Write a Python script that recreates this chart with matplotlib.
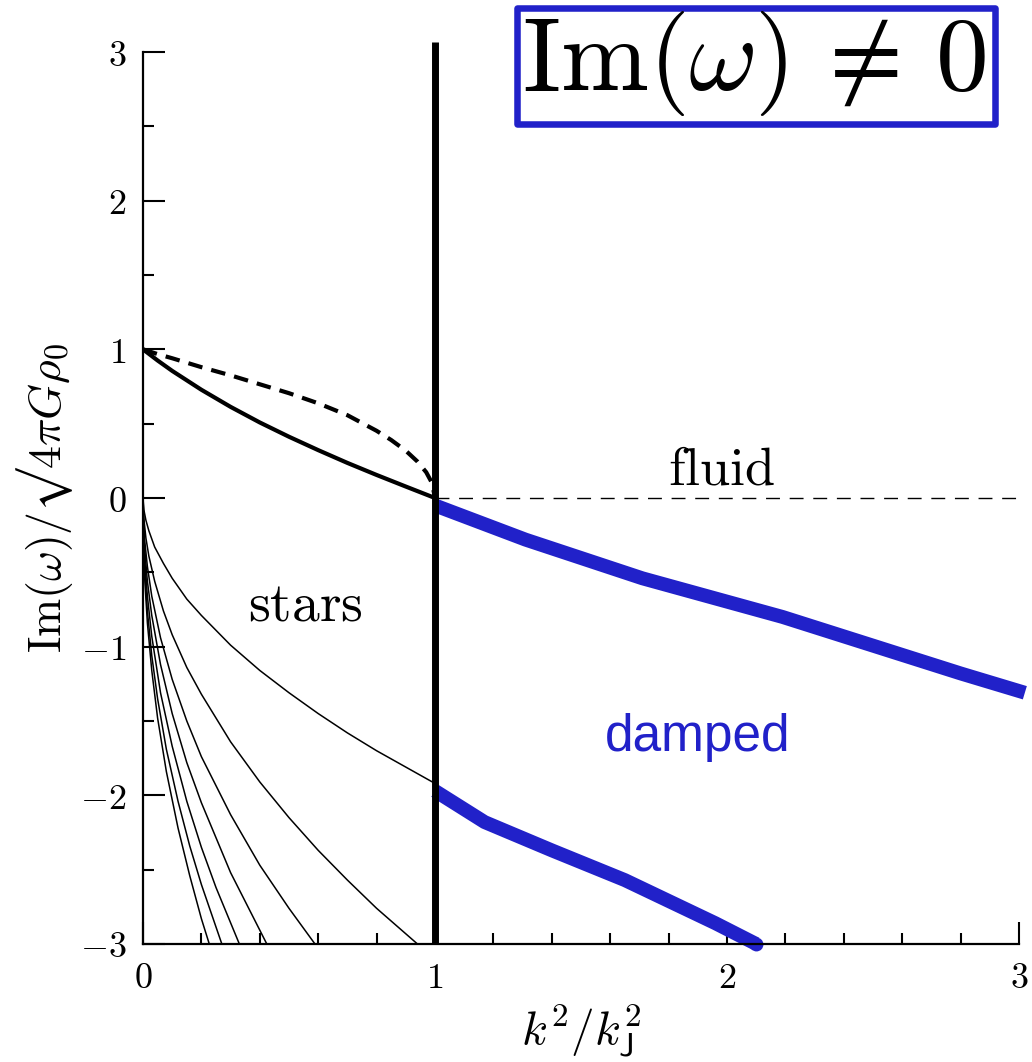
import matplotlib
matplotlib.use("Agg")
import matplotlib.pyplot as plt
from matplotlib.ticker import MultipleLocator, FuncFormatter
from matplotlib.patches import Rectangle

plt.rcParams['mathtext.fontset'] = 'cm'
plt.rcParams['font.family'] = ['DejaVu Serif']

# gas (fluid) growth rate and the stellar one, both from 1 at k=0 down to 0 at k_J
fluid_x = [0.0, 0.05, 0.1, 0.2, 0.3, 0.4, 0.5, 0.6, 0.7, 0.8, 0.85, 0.9, 0.94, 0.97, 0.99, 1.0]
fluid_y = [1.0, 0.968, 0.94, 0.88, 0.825, 0.765, 0.705, 0.637, 0.557, 0.452, 0.39, 0.318,
           0.245, 0.173, 0.10, 0.0]
star_x = [0.0, 0.05, 0.1, 0.2, 0.3, 0.4, 0.5, 0.6, 0.7, 0.8, 0.9, 1.0]
star_y = [1.0, 0.925, 0.855, 0.728, 0.613, 0.508, 0.412, 0.322, 0.236, 0.155, 0.077, 0.0]

# damped stellar branches for k < k_J (thin lines)
branch_x = [
    [0.0, 0.003, 0.01, 0.02, 0.04, 0.07, 0.1, 0.15, 0.2, 0.3, 0.4, 0.5, 0.6, 0.7, 0.8, 0.9, 1.0],
    [0.0, 0.003, 0.01, 0.02, 0.04, 0.07, 0.1, 0.15, 0.2, 0.3, 0.4, 0.5, 0.6, 0.7, 0.8, 0.94],
    [0.0, 0.002, 0.006, 0.015, 0.03, 0.06, 0.1, 0.15, 0.2, 0.3, 0.4, 0.5, 0.589],
    [0.0, 0.002, 0.006, 0.015, 0.03, 0.06, 0.1, 0.15, 0.2, 0.3, 0.424],
    [0.0, 0.002, 0.006, 0.015, 0.03, 0.06, 0.1, 0.15, 0.2, 0.25, 0.33],
    [0.0, 0.002, 0.006, 0.015, 0.03, 0.05, 0.08, 0.12, 0.16, 0.2, 0.27],
    [0.0, 0.002, 0.006, 0.015, 0.03, 0.05, 0.08, 0.12, 0.16, 0.2, 0.227],
]
branch_y = [
    [0.0, -0.08, -0.15, -0.22, -0.33, -0.44, -0.54, -0.68, -0.79, -0.99, -1.16, -1.31, -1.45,
     -1.58, -1.70, -1.81, -1.92],
    [0.0, -0.14, -0.27, -0.39, -0.56, -0.76, -0.92, -1.14, -1.32, -1.64, -1.91, -2.15, -2.37,
     -2.57, -2.76, -3.0],
    [0.0, -0.17, -0.29, -0.46, -0.66, -0.94, -1.22, -1.50, -1.74, -2.13, -2.47, -2.76, -3.0],
    [0.0, -0.20, -0.35, -0.56, -0.79, -1.12, -1.45, -1.78, -2.05, -2.52, -3.0],
    [0.0, -0.25, -0.42, -0.66, -0.93, -1.31, -1.67, -2.04, -2.35, -2.62, -3.0],
    [0.0, -0.29, -0.49, -0.76, -1.06, -1.35, -1.69, -2.04, -2.34, -2.60, -3.0],
    [0.0, -0.33, -0.55, -0.84, -1.16, -1.48, -1.84, -2.22, -2.54, -2.83, -3.0],
]

# damped branches for k > k_J (thick blue)
damp1_x = [1.0, 1.31, 1.71, 2.19, 2.80, 3.02]
damp1_y = [-0.05, -0.28, -0.54, -0.80, -1.18, -1.31]
damp2_x = [1.0, 1.17, 1.40, 1.65, 1.96, 2.10]
damp2_y = [-1.97, -2.18, -2.37, -2.57, -2.86, -3.0]

blue = '#2121C9'

fig = plt.figure(figsize=(10.32, 10.62), dpi=100)
ax = fig.add_axes([143 / 1032, 118 / 1062, 876 / 1032, 892 / 1062])

for bx, by in zip(branch_x, branch_y):
    ax.plot(bx, by, color='black', lw=1.1)

ax.plot(star_x, star_y, color='black', lw=3.0)
ax.plot(fluid_x, fluid_y, color='black', lw=3.0, dashes=(3.5, 2.2))
ax.plot([1, 3], [0, 0], color='black', lw=1.0, dashes=(10, 7))

ax.plot(damp1_x, damp1_y, color=blue, lw=10, solid_capstyle='butt',
        solid_joinstyle='round', clip_on=False)
ax.plot(damp2_x, damp2_y, color=blue, lw=10, solid_capstyle='butt',
        solid_joinstyle='round', clip_on=False)
ax.plot(damp2_x[-1:], damp2_y[-1:], 'o', color=blue, ms=10, mew=0, clip_on=False)

# k = k_J
ax.plot([1, 1], [-3, 3.07], color='black', lw=5, clip_on=False, solid_capstyle='butt')

ax.text(0.555, -0.72, r'$\mathrm{stars}$', fontsize=40, ha='center', va='center')
ax.text(1.983, 0.19, r'$\mathrm{fluid}$', fontsize=39, ha='center', va='center')
ax.text(1.90, -1.61, 'damped', fontsize=37, color=blue, ha='center', va='center',
        family='Liberation Sans')

ax.set_xlim(0, 3)
ax.set_ylim(-3, 3)
for s in ['top', 'right']:
    ax.spines[s].set_visible(False)
for s in ['left', 'bottom']:
    ax.spines[s].set_linewidth(1.6)

ax.xaxis.set_major_locator(MultipleLocator(1))
ax.xaxis.set_minor_locator(MultipleLocator(0.2))
ax.yaxis.set_major_locator(MultipleLocator(1))
ax.yaxis.set_minor_locator(MultipleLocator(0.5))
fmt = FuncFormatter(lambda v, p: r'$%d$' % round(v))
ax.xaxis.set_major_formatter(fmt)
ax.yaxis.set_major_formatter(fmt)
ax.tick_params(which='major', direction='in', length=16, width=1.5, labelsize=26, pad=12)
ax.tick_params(which='minor', direction='in', length=8, width=1.5)
ax.tick_params(top=False, right=False)

ax.set_xlabel(r'$k^2/k_{\mathsf{J}}^2$', fontsize=34)
ax.xaxis.set_label_coords(0.5, -0.066)
ax.set_ylabel('$\\mathrm{Im}(\\omega)/\u221a4\\pi G\\rho_0$', fontsize=33)
ax.yaxis.set_label_coords(-0.078, 0.50)

# title box
fig.patches.append(Rectangle((517 / 1032, 1 - 124 / 1062), 478 / 1032, 116 / 1062,
                             transform=fig.transFigure, fill=False, edgecolor=blue,
                             lw=4.7, joinstyle='round'))
fig.text(754 / 1032, 1 - 64 / 1062, r'$\mathrm{Im}(\omega)\,\neq\,0$', fontsize=76,
         ha='center', va='center')

fig.savefig('out.png', dpi=100)
